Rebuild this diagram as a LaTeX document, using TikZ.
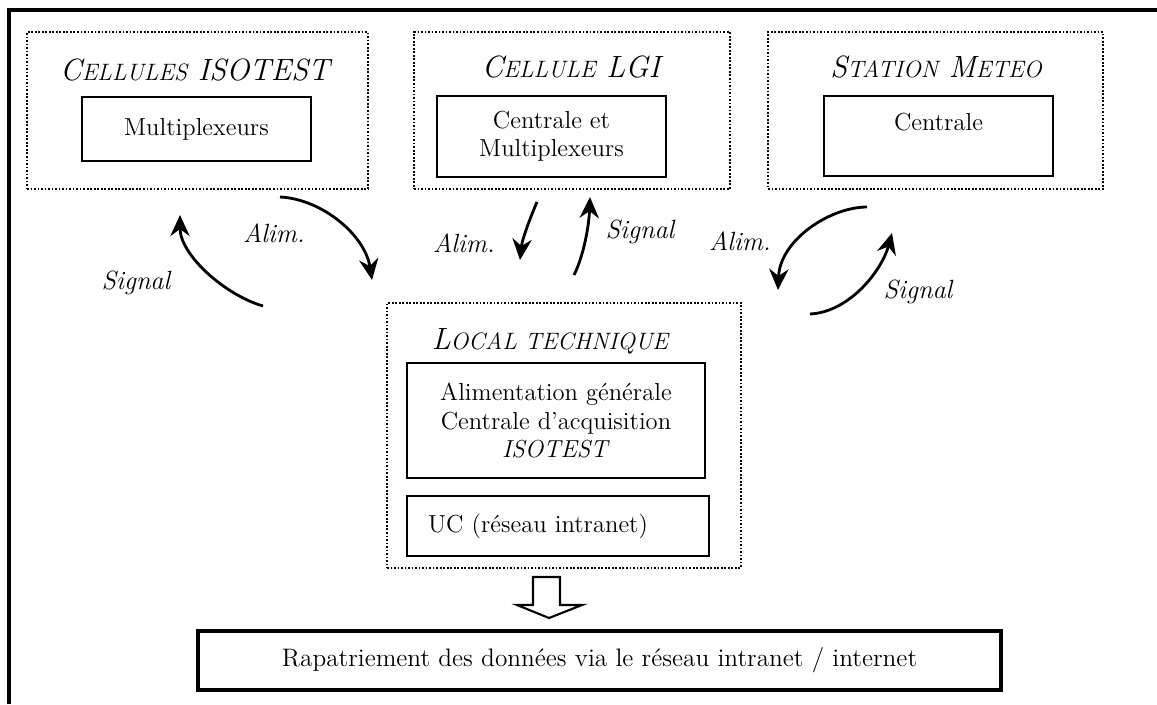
\documentclass[tikz,border=0pt]{standalone}
\usepackage{tikz}
\usetikzlibrary{arrows.meta}

% petites capitales simulees
\newcommand{\pcap}[1]{{\fontsize{13.5}{15}\selectfont #1}}

\begin{document}
\begin{tikzpicture}[x=0.02cm, y=-0.02cm,
    zone/.style={draw, densely dotted, line width=1pt, inner sep=0pt},
    bloc/.style={draw, line width=1.5pt, inner sep=0pt, align=center, font=\fontsize{14}{16}\selectfont},
    titre/.style={anchor=base, font=\itshape\fontsize{17.5}{21}\selectfont},
    etiq/.style={font=\itshape\fontsize{15}{17}\selectfont},
    fleche/.style={line width=1.6pt, -{Stealth[length=12pt, width=11pt, inset=4pt]}}]
    \useasboundingbox (0,0) rectangle (1157,704);
    \draw[line width=2pt] (9,704) -- (9,10) -- (1157,10);

    % cellules ISOTEST
    \node[zone, minimum width=6.82cm, minimum height=3.14cm] (isotest) at (197.5,110.5) {};
    \node[titre] (isotest-t) at (195,80) {C\pcap{ELLULES} ISOTEST};
    \node[bloc, minimum width=4.58cm, minimum height=1.28cm] (multi) at (196.5,129) {Multiplexeurs};

    % cellule LGI
    \node[zone, minimum width=6.32cm, minimum height=3.14cm] (lgi) at (572,110.5) {};
    \node[titre] (lgi-t) at (571,77) {C\pcap{ELLULE} LGI};
    \node[bloc, minimum width=4.58cm, minimum height=1.62cm] (centrale-lgi) at (551.5,136.5) {Centrale et\\Multiplexeurs};

    % station meteo
    \node[zone, minimum width=6.7cm, minimum height=3.14cm] (meteo) at (935.5,110.5) {};
    \node[titre] (meteo-t) at (936,77) {S\pcap{TATION} M\pcap{ETEO}};
    \node[bloc, minimum width=4.58cm, minimum height=1.6cm] (centrale-meteo) at (938.5,136) {Centrale\\\mbox{}};

    % local technique
    \node[zone, minimum width=7.08cm, minimum height=5.3cm] (local) at (564,435.5) {};
    \node[titre] (local-t) at (550,349) {L\pcap{OCAL TECHNIQUE}};
    \node[bloc, minimum width=5.96cm, minimum height=2.3cm] (acquisition) at (556,420.5) {Alimentation générale\\Centrale d'acquisition\\\textit{ISOTEST}};
    \node[bloc, minimum width=6.04cm, minimum height=1.2cm, text width=5.2cm, align=left] (uc) at (558,526) {UC (réseau intranet)};

    \node[draw, line width=2pt, minimum width=16.06cm, minimum height=1.18cm, font=\fontsize{14.4}{17}\selectfont] (rapatriement) at (599.5,660.5) {Rapatriement des données via le réseau intranet / internet};

    % grosse fleche vers le rapatriement
    \coordinate (tige) at (547,577);
    \draw[line width=1.2pt] (tige) ++(-14,0) -- ++(0,28) -- ++(-16,0) -- ++(32,13) -- ++(33,-13) -- ++(-22,0) -- ++(0,-28) -- cycle;

    % fleches alim. / signal
    \coordinate (alim1-a) at (280,197);
    \coordinate (alim1-b) at (372,280);
    \coordinate (signal1-a) at (263,306);
    \coordinate (signal1-b) at (180,215);
    \coordinate (alim2-a) at (537,202);
    \coordinate (alim2-b) at (520,260);
    \coordinate (signal2-a) at (574,275);
    \coordinate (signal2-b) at (590,197);
    \coordinate (alim3-a) at (867,207);
    \coordinate (alim3-b) at (778,290);
    \coordinate (signal3-a) at (810,314);
    \coordinate (signal3-b) at (892,233);

    \draw[fleche] (alim1-a) .. controls (322,199) and (365,235) .. (alim1-b);
    \draw[fleche] (signal1-a) .. controls (225,295) and (180,255) .. (signal1-b);
    \draw[fleche] (alim2-a) .. controls (530,218) and (522,240) .. (alim2-b);
    \draw[fleche] (signal2-a) .. controls (584,255) and (589,225) .. (signal2-b);
    \draw[fleche] (alim3-a) .. controls (830,207) and (780,240) .. (alim3-b);
    \draw[fleche] (signal3-a) .. controls (850,312) and (882,270) .. (signal3-b);

    \node[etiq] (alim1) at (274,233) {Alim.};
    \node[etiq] (signal1) at (136,283) {Signal};
    \node[etiq] (alim2) at (464,243) {Alim.};
    \node[etiq] (signal2) at (640,232) {Signal};
    \node[etiq] (alim3) at (740,241) {Alim.};
    \node[etiq] (signal3) at (918,292) {Signal};
\end{tikzpicture}
\end{document}
